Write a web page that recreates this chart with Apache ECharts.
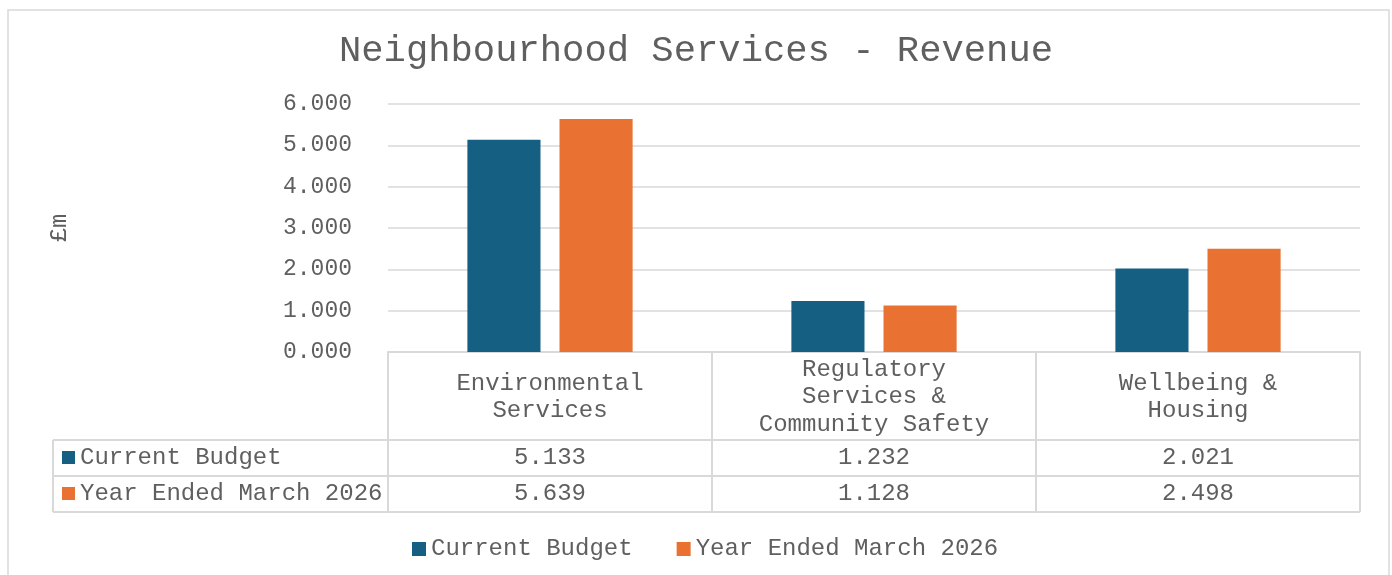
<!DOCTYPE html>
<html><head><meta charset="utf-8">
<script src="https://cdn.jsdelivr.net/npm/echarts@6/dist/echarts.min.js"></script>
<style>html,body{margin:0;padding:0;background:#fff}#c{width:1392px;height:575px}</style>
</head><body><div id="c"></div>
<script>
const categories = ['Environmental Services', 'Regulatory Services & Community Safety', 'Wellbeing & Housing'];
const categoryLabels = ['Environmental\nServices', 'Regulatory\nServices &\nCommunity Safety', 'Wellbeing &\nHousing'];
const seriesNames = ['Current Budget', 'Year Ended March 2026'];
const currentBudget = [5.133, 1.232, 2.021];
const yearEnded = [5.639, 1.128, 2.498];
const yMin = 0, yMax = 6, yStep = 1;

const FONT = "'Liberation Mono', 'Courier New', monospace";
const TXT = '#5f5f5f';
const LINE = '#d9d9d9';
const COLORS = ['#156082', '#E97132'];
const FS = 24;

const chart = echarts.init(document.getElementById('c'), null, {renderer: 'canvas'});
const option = {
  animation: false,
  backgroundColor: '#fff',
  color: COLORS,
  title: {
    text: 'Neighbourhood Services - Revenue',
    left: 'center', top: 28,
    textStyle: {fontFamily: FONT, fontSize: 37.2, fontWeight: 'normal', color: TXT}
  },
  legend: {
    bottom: 9, left: 407,
    icon: 'rect', itemWidth: 14, itemHeight: 14, itemGap: 44,
    textStyle: {fontFamily: FONT, fontSize: FS, color: TXT},
    data: seriesNames
  },
  grid: {left: 388, right: 32, top: 104, bottom: 223, containLabel: false},
  xAxis: {
    type: 'category', data: categories,
    axisLine: {show: true, lineStyle: {color: LINE, width: 2}},
    axisTick: {show: false}, axisLabel: {show: false}, splitLine: {show: false}
  },
  yAxis: {
    type: 'value', min: yMin, max: yMax, interval: yStep,
    name: '£m', nameLocation: 'middle', nameRotate: 90, nameGap: 316,
    nameTextStyle: {fontFamily: FONT, fontSize: 23.5, color: TXT},
    axisLine: {show: false}, axisTick: {show: false},
    axisLabel: {formatter: v => v.toFixed(3), fontFamily: FONT, fontSize: 23, color: TXT, margin: 36},
    splitLine: {lineStyle: {color: LINE, width: 1.5}}
  },
  series: [
    {name: seriesNames[0], type: 'bar', data: currentBudget, barGap: '26%', barCategoryGap: '49%',
     itemStyle: {color: COLORS[0]}},
    {name: seriesNames[1], type: 'bar', data: yearEnded, barGap: '26%', barCategoryGap: '49%',
     itemStyle: {color: COLORS[1]}}
  ]
};
chart.setOption(option);

// Build the data table below the axis from the chart's own scale
const c0 = chart.convertToPixel({xAxisIndex: 0}, 0);
const c1 = chart.convertToPixel({xAxisIndex: 0}, 1);
const bw = c1 - c0;
const xs = categories.map((_, i) => chart.convertToPixel({xAxisIndex: 0}, i));
const leftEdge = xs[0] - bw / 2;
const rightEdge = xs[xs.length - 1] + bw / 2;
const y0 = chart.convertToPixel({yAxisIndex: 0}, 0);
const headerH = 88, rowH = 36, tableLeft = 53;
const yRow1 = y0 + headerH, yRow2 = yRow1 + rowH, yRow3 = yRow2 + rowH;

const g = [];
const lineStyle = {stroke: LINE, lineWidth: 2};
// outer chart border
g.push({type: 'rect', shape: {x: 8, y: 10, width: 1381, height: 620}, style: {fill: null, stroke: LINE, lineWidth: 1.5}, z: -1});
[yRow1, yRow2, yRow3].forEach(y => g.push({type: 'line', shape: {x1: tableLeft, y1: y, x2: rightEdge, y2: y}, style: lineStyle}));
g.push({type: 'line', shape: {x1: tableLeft, y1: yRow1, x2: tableLeft, y2: yRow3}, style: lineStyle});
for (let i = 0; i <= categories.length; i++) {
  const x = leftEdge + i * bw;
  g.push({type: 'line', shape: {x1: x, y1: y0, x2: x, y2: yRow3}, style: lineStyle});
}
categoryLabels.forEach((t, i) => {
  g.push({type: 'text', x: xs[i], y: y0 + headerH / 2 + 1,
    style: {text: t, fontFamily: FONT, fontSize: FS, fill: TXT, align: 'center', verticalAlign: 'middle', lineHeight: 27.5}});
});
const rows = [currentBudget, yearEnded];
rows.forEach((vals, r) => {
  const yc = yRow1 + rowH * r + rowH / 2;
  g.push({type: 'rect', shape: {x: 62, y: yc - 7, width: 13, height: 13}, style: {fill: COLORS[r]}});
  g.push({type: 'text', x: 80, y: yc, style: {text: seriesNames[r], fontFamily: FONT, fontSize: FS, fill: TXT, align: 'left', verticalAlign: 'middle'}});
  vals.forEach((v, i) => {
    g.push({type: 'text', x: xs[i], y: yc, style: {text: v.toFixed(3), fontFamily: FONT, fontSize: FS, fill: TXT, align: 'center', verticalAlign: 'middle'}});
  });
});
chart.setOption({graphic: g});
</script></body></html>
